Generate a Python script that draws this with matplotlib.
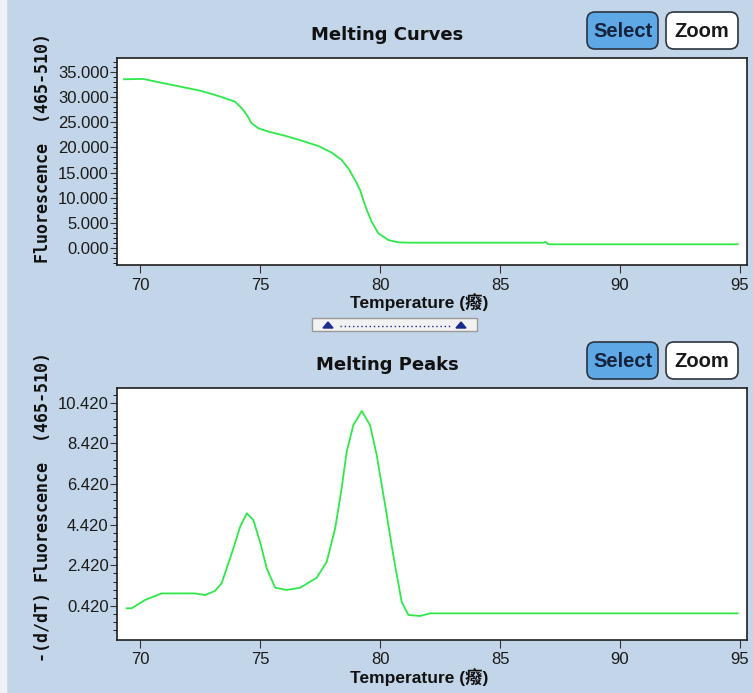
import matplotlib
matplotlib.use("Agg")
import matplotlib.pyplot as plt
from matplotlib.patches import FancyBboxPatch, Rectangle, Polygon
from matplotlib.ticker import FixedLocator, MultipleLocator

# Melting curve: fluorescence vs temperature
curve_temp = [69.33, 70.13, 71.13, 72.5, 73.13, 73.54, 73.96, 74.24, 74.45, 74.65,
              74.93, 75.35, 76.04, 76.74, 77.43, 77.99, 78.40, 78.68, 78.96, 79.17,
              79.30, 79.45, 79.65, 79.93, 80.35, 80.76, 81.25, 86.8, 86.9, 87.0,
              87.1, 94.9]
curve_fluor = [33.49, 33.55, 32.56, 31.23, 30.38, 29.73, 29.05, 27.74, 26.42, 24.77,
               23.78, 23.11, 22.31, 21.32, 20.27, 18.95, 17.50, 15.85, 13.53, 11.55,
               9.57, 7.59, 5.27, 2.97, 1.64, 1.19, 1.12, 1.12, 1.25, 0.85,
               0.80, 0.80]

# Melting peaks: -(d/dT) fluorescence vs temperature
peak_temp = [69.44, 69.65, 70.21, 70.9, 72.29, 72.71, 73.13, 73.4, 73.68, 73.89,
             74.17, 74.45, 74.72, 75.0, 75.28, 75.63, 76.11, 76.67, 77.36, 77.78,
             78.13, 78.40, 78.61, 78.89, 79.24, 79.58, 79.86, 80.21, 80.55, 80.90,
             81.18, 81.67, 82.08, 94.9]
peak_deriv = [0.31, 0.31, 0.72, 1.04, 1.04, 0.96, 1.17, 1.54, 2.52, 3.26,
              4.32, 4.98, 4.65, 3.58, 2.27, 1.32, 1.21, 1.32, 1.81, 2.60,
              4.24, 6.21, 8.01, 9.32, 10.01, 9.32, 7.85, 5.39, 2.93, 0.63,
              -0.02, -0.07, 0.06, 0.06]

x_ticks = [70, 75, 80, 85, 90, 95]
curve_yticks = [0, 5, 10, 15, 20, 25, 30, 35]
peak_yticks = [0.42, 2.42, 4.42, 6.42, 8.42, 10.42]

W, H = 753, 693
BG = "#c3d6e9"
LINE = "#2ee84a"

fig = plt.figure(figsize=(W / 100, H / 100), dpi=100)
fig.patch.set_facecolor(BG)

# pixel-space canvas for the window decorations
bg = fig.add_axes([0, 0, 1, 1], zorder=0)
bg.set_xlim(0, W)
bg.set_ylim(H, 0)
bg.axis("off")
bg.add_patch(Rectangle((0, 0), 7, H, facecolor="#eef2f7", edgecolor="none"))
bg.plot([7, 7], [0, H], color="#d6dde6", lw=0.8)


def button(x, y, w, h, label, fill, txt):
    bg.add_patch(FancyBboxPatch((x, y), w, h, boxstyle="round,pad=0,rounding_size=8",
                                facecolor=fill, edgecolor="#2b3440", linewidth=1.2))
    bg.text(x + w / 2, y + h / 2 + 1, label, ha="center", va="center",
            fontsize=14.5, fontweight="bold", color=txt, family="Liberation Sans")


def panel(top, bottom, title, ylabel, label_y):
    ax = fig.add_axes([117 / W, 1 - bottom / H, 630 / W, (bottom - top) / H], zorder=1)
    ax.set_facecolor("white")
    for s in ax.spines.values():
        s.set_color("#1e1e1e")
        s.set_linewidth(1.2)
    ax.set_xlim(69.04, 95.29)
    ax.set_xticks(x_ticks)
    ax.tick_params(axis="both", direction="out", colors="#333333", labelcolor="#1a1a1a",
                   labelsize=12, width=0.8)
    ax.tick_params(axis="x", length=6, pad=3)
    ax.tick_params(axis="y", which="major", length=5, pad=1)
    ax.tick_params(axis="y", which="minor", length=3, width=0.6)
    for lab in ax.get_xticklabels() + ax.get_yticklabels():
        lab.set_family("Liberation Sans")
    bg.text(387, top - 23, title, ha="center", va="center", fontsize=13,
            fontweight="bold", family="DejaVu Sans", color="#111111")
    bg.text(43, label_y, ylabel, ha="center", va="center", rotation=90,
            fontsize=12, fontweight="bold", family="DejaVu Sans Mono", color="#111111")
    bg.text(419, bottom + 37, "Temperature (癈)", ha="center", va="center",
            fontsize=12.5, fontweight="bold", family=["Liberation Sans", "Noto Sans CJK SC"],
            color="#111111")
    button(587, top - 46, 71, 37, "Select", "#5fa8e6", "#15233d")
    button(666, top - 46, 72, 37, "Zoom", "white", "#1a1a1a")
    return ax


ax1 = panel(58, 265, "Melting Curves", "Fluorescence  (465-510)", 148)
ax1.plot(curve_temp, curve_fluor, color=LINE, lw=1.3)
ax1.set_ylim(-3.3, 37.7)
ax1.yaxis.set_major_locator(FixedLocator(curve_yticks))
ax1.yaxis.set_minor_locator(MultipleLocator(1))
ax1.set_yticklabels([f"{v:.3f}" for v in curve_yticks], family="Liberation Sans")

ax2 = panel(388, 640, "Melting Peaks", "-(d/dT) Fluorescence  (465-510)", 507)
ax2.plot(peak_temp, peak_deriv, color=LINE, lw=1.3)
ax2.set_ylim(-1.25, 11.14)
ax2.yaxis.set_major_locator(FixedLocator(peak_yticks))
ax2.yaxis.set_minor_locator(FixedLocator([0.42 + 0.4 * k for k in range(-3, 27)]))
ax2.set_yticklabels([f"{v:.3f}" for v in peak_yticks], family="Liberation Sans")

# splitter handle between the two panels
bg.add_patch(Rectangle((312, 318), 165, 13, facecolor="#f2f2f2", edgecolor="#9a9a9a", lw=1))
bg.add_patch(Polygon([[323, 328], [333, 328], [328, 322]], closed=True, color="#1c2a8c"))
bg.add_patch(Polygon([[456, 328], [466, 328], [461, 322]], closed=True, color="#1c2a8c"))
bg.plot([340, 450], [326, 326], color="#1c2a8c", lw=1, linestyle=(0, (1, 2)))

fig.savefig("out.png", dpi=100, facecolor=BG)
